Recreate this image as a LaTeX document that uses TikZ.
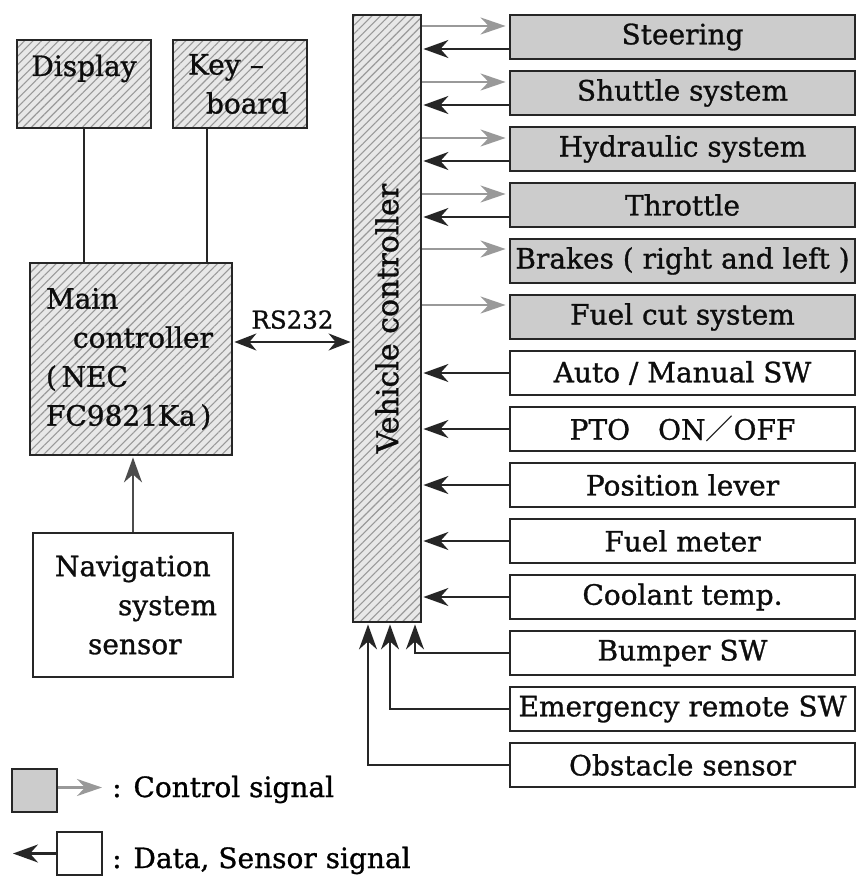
\documentclass[tikz,border=0pt]{standalone}
\usepackage{fontspec}
\setmainfont{DejaVu Serif}[FakeBold=1]
\newfontfamily\cjk{Noto Sans CJK JP}
\usepackage{graphicx}
\usetikzlibrary{arrows.meta, patterns.meta}

\begin{document}
\begin{tikzpicture}[
  font=\fontsize{28}{39}\selectfont, x=1pt, y=-1pt,
  box/.style={draw=black!85, line width=2.8pt, align=center, inner sep=3pt, text=black!95},
  hbox/.style={box, preaction={fill=black!9},
               pattern={Lines[angle=45,distance=6pt,line width=1.1pt]}, pattern color=black!40},
  rowbox/.style={box, minimum width=345pt, minimum height=44pt},
  cbox/.style={rowbox, fill=black!20},
  dbox/.style={rowbox, fill=white},
  fl/.style={-{Stealth[length=25pt,width=18pt,inset=8pt]}, draw=black!85, line width=2.2pt,
             shorten >=1pt},
  dfl/.style={fl, {Stealth[length=22pt,width=17pt,inset=7pt]}-{Stealth[length=22pt,width=17pt,inset=7pt]},
              shorten <=1pt},
  gfl/.style={-{Stealth[length=25pt,width=17pt,inset=8pt]}, draw=black!40, line width=2.6pt,
              shorten >=3pt},
  ln/.style={draw=black!85, line width=2.6pt},
  lb/.style={font=\fontsize{24.5}{28}\selectfont, inner sep=3pt, text=black!95},
]
\useasboundingbox (0,0) rectangle (861,880);

\node[hbox, minimum width=134pt, minimum height=88pt, text height=30pt, text depth=46pt,
      inner ysep=6pt] (disp) at (84,84) {Display};
\node[hbox, minimum width=134pt, minimum height=88pt, text width=112pt, align=left]
      (kbd) at (240,84) {\hspace*{4pt}Key --\\\hspace*{22pt}board};
\node[hbox, minimum width=202pt, minimum height=192pt, text width=170pt, align=left]
      (main) at (131,359) {Main\\\hspace*{27pt}controller\\(\,NEC\\FC9821Ka\,)};
\node[box, fill=white, minimum width=200pt, minimum height=144pt, text width=170pt, align=left]
      (nav) at (133,605) {\hspace*{7pt}Navigation\\\hspace*{70pt}system\\\hspace*{40pt}sensor};
\node[hbox, minimum width=68pt, minimum height=607pt, font=\fontsize{30}{36}\selectfont]
      (vc) at (387,318.5) {\rotatebox{90}{Vehicle controller}};

\node[cbox] (steer) at (682.5, 37) {Steering};
\node[cbox] (shut)  at (682.5, 93) {Shuttle system};
\node[cbox] (hyd)   at (682.5,149) {Hydraulic system};
\node[cbox] (thr)   at (682.5,205) {Throttle};
\node[cbox] (brk)   at (682.5,261) {Brakes ( right and left )};
\node[cbox] (fcut)  at (682.5,317) {Fuel cut system};
\node[dbox] (amsw)  at (682.5,373) {Auto / Manual SW};
\node[dbox] (pto)   at (682.5,429) {PTO\quad ON{\cjk ／}OFF};
\node[dbox] (plev)  at (682.5,485) {Position lever};
\node[dbox] (fmet)  at (682.5,541) {Fuel meter};
\node[dbox] (cool)  at (682.5,597) {Coolant temp.};
\node[dbox] (bump)  at (682.5,653) {Bumper SW};
\node[dbox] (emsw)  at (682.5,709) {Emergency remote SW};
\node[dbox] (obst)  at (682.5,765) {Obstacle sensor};

% legend
\node[box, fill=black!20, minimum width=45pt, minimum height=43pt] (lgc) at (34.5,790.5) {};
\node[box, fill=white, minimum width=45pt, minimum height=43pt] (lgd) at (79.5,853.5) {};
\node[anchor=base west, inner sep=4pt] (lgct) at (108,797) {: Control signal};
\node[anchor=base west, inner sep=4pt] (lgdt) at (108,868) {: Data, Sensor signal};
\coordinate (lgdend) at (12,853.5);

\draw[ln] (disp.south) -- (disp.south |- main.north);
\draw[ln] ([xshift=-33pt]kbd.south) -- ([xshift=-33pt]kbd.south |- main.north);
\draw[fl, draw=black!70, line width=1.8pt] (nav.north) -- (nav.north |- main.south);
\draw[dfl] ([yshift=17pt]main.east) -- node[lb,above=9pt] (rs) {RS232} ([yshift=17pt]main.east -| vc.west);

\draw[gfl] ([yshift=11pt]vc.east |- steer.west) -- ([yshift=11pt]steer.west);
\draw[fl]  ([yshift=-12pt]steer.west) -- ([yshift=-12pt]vc.east |- steer.west);
\draw[gfl] ([yshift=11pt]vc.east |- shut.west) -- ([yshift=11pt]shut.west);
\draw[fl]  ([yshift=-12pt]shut.west) -- ([yshift=-12pt]vc.east |- shut.west);
\draw[gfl] ([yshift=11pt]vc.east |- hyd.west) -- ([yshift=11pt]hyd.west);
\draw[fl]  ([yshift=-12pt]hyd.west) -- ([yshift=-12pt]vc.east |- hyd.west);
\draw[gfl] ([yshift=11pt]vc.east |- thr.west) -- ([yshift=11pt]thr.west);
\draw[fl]  ([yshift=-12pt]thr.west) -- ([yshift=-12pt]vc.east |- thr.west);
\draw[gfl] ([yshift=12pt]vc.east |- brk.west) -- ([yshift=12pt]brk.west);
\draw[gfl] ([yshift=12pt]vc.east |- fcut.west) -- ([yshift=12pt]fcut.west);

\draw[fl] (amsw.west) -- (vc.east |- amsw.west);
\draw[fl] (pto.west)  -- (vc.east |- pto.west);
\draw[fl] (plev.west) -- (vc.east |- plev.west);
\draw[fl] (fmet.west) -- (vc.east |- fmet.west);
\draw[fl] (cool.west) -- (vc.east |- cool.west);

\draw[fl] (bump.west) -| ([xshift=28pt]vc.south);
\draw[fl] (emsw.west) -| ([xshift=3pt]vc.south);
\draw[fl] (obst.west) -| ([xshift=-19pt]vc.south);

\draw[gfl, shorten >=6pt] ([yshift=3pt]lgc.east -| lgc.east) -- ([yshift=3pt]lgc.east -| lgct.west);
\draw[fl] (lgd.west) -- (lgdend);
\end{tikzpicture}
\end{document}
